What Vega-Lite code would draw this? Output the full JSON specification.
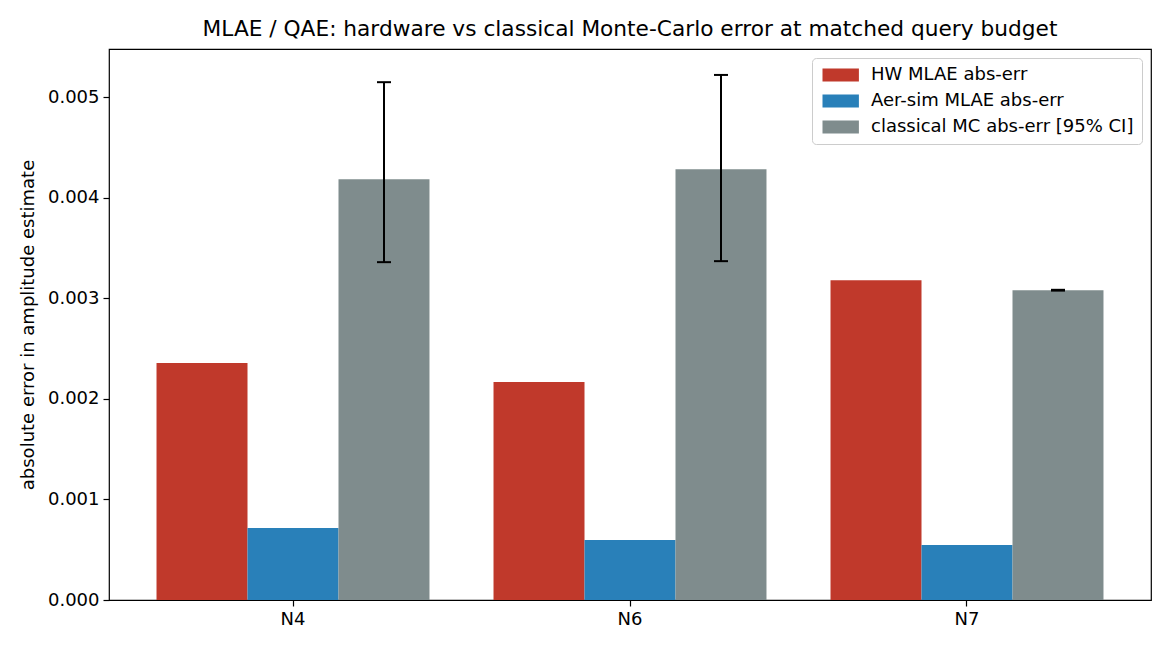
{
  "$schema": "https://vega.github.io/schema/vega-lite/v6.json",
  "width": 1042,
  "height": 551,
  "autosize": "none",
  "padding": {"left": 109, "top": 49, "right": 19, "bottom": 50},
  "background": "white",
  "title": {
    "text": "MLAE / QAE: hardware vs classical Monte-Carlo error at matched query budget",
    "font": "DejaVu Sans",
    "fontSize": 21.7,
    "fontWeight": "normal",
    "color": "black",
    "offset": 8
  },
  "config": {
    "view": {"stroke": "black", "strokeWidth": 1.2},
    "font": "DejaVu Sans",
    "axis": {
      "labelFont": "DejaVu Sans",
      "labelFontSize": 18,
      "labelColor": "black",
      "titleFont": "DejaVu Sans",
      "titleFontSize": 18,
      "titleFontWeight": "normal",
      "titleColor": "black",
      "tickColor": "black",
      "tickSize": 6,
      "tickWidth": 1.2,
      "domain": false,
      "grid": false
    },
    "legend": {
      "labelFont": "DejaVu Sans",
      "labelFontSize": 18,
      "labelColor": "black",
      "labelLimit": 400
    }
  },
  "data": {
    "values": [
      {"group": "N4", "series": "HW MLAE abs-err", "value": 0.002356},
      {"group": "N4", "series": "Aer-sim MLAE abs-err", "value": 0.000716},
      {"group": "N4", "series": "classical MC abs-err [95% CI]", "value": 0.004185, "lo": 0.00336, "hi": 0.00515},
      {"group": "N6", "series": "HW MLAE abs-err", "value": 0.002167},
      {"group": "N6", "series": "Aer-sim MLAE abs-err", "value": 0.000596},
      {"group": "N6", "series": "classical MC abs-err [95% CI]", "value": 0.004284, "lo": 0.00337, "hi": 0.005222},
      {"group": "N7", "series": "HW MLAE abs-err", "value": 0.00318},
      {"group": "N7", "series": "Aer-sim MLAE abs-err", "value": 0.000547},
      {"group": "N7", "series": "classical MC abs-err [95% CI]", "value": 0.00308, "lo": 0.003077, "hi": 0.003085}
    ]
  },
  "encoding": {
    "x": {
      "field": "group",
      "type": "nominal",
      "title": null,
      "scale": {"paddingInner": 0.19, "paddingOuter": 0.141},
      "axis": {"labelAngle": 0, "labelPadding": 4}
    },
    "xOffset": {
      "field": "series",
      "type": "nominal",
      "scale": {
        "domain": ["HW MLAE abs-err", "Aer-sim MLAE abs-err", "classical MC abs-err [95% CI]"],
        "paddingInner": 0,
        "paddingOuter": 0
      }
    }
  },
  "layer": [
    {
      "mark": {"type": "bar"},
      "encoding": {
        "y": {
          "field": "value",
          "type": "quantitative",
          "title": "absolute error in amplitude estimate",
          "scale": {"domain": [0, 0.00548], "nice": false},
          "axis": {"values": [0, 0.001, 0.002, 0.003, 0.004, 0.005], "format": ".3f", "labelPadding": 4, "titlePadding": 10}
        },
        "color": {
          "field": "series",
          "type": "nominal",
          "title": null,
          "scale": {
            "domain": ["HW MLAE abs-err", "Aer-sim MLAE abs-err", "classical MC abs-err [95% CI]"],
            "range": ["#c0392b", "#2980b9", "#7f8c8d"]
          },
          "legend": {
            "orient": "top-right",
            "offset": 9,
            "symbolType": "M-1,-1L4.6,-1L4.6,1L-1,1Z",
            "symbolSize": 169,
            "symbolStrokeWidth": 0,
            "symbolOpacity": 1,
            "rowPadding": 8,
            "labelOffset": 33,
            "padding": 8,
            "strokeColor": "#cccccc",
            "fillColor": "white",
            "cornerRadius": 4
          }
        }
      }
    },
    {
      "transform": [{"filter": "isValid(datum.lo)"}],
      "mark": {"type": "rule", "color": "black", "strokeWidth": 2},
      "encoding": {
        "y": {"field": "lo", "type": "quantitative"},
        "y2": {"field": "hi"}
      }
    },
    {
      "transform": [{"filter": "isValid(datum.lo)"}],
      "mark": {"type": "tick", "color": "black", "size": 14, "thickness": 2, "opacity": 1},
      "encoding": {
        "y": {"field": "lo", "type": "quantitative"}
      }
    },
    {
      "transform": [{"filter": "isValid(datum.hi)"}],
      "mark": {"type": "tick", "color": "black", "size": 14, "thickness": 2, "opacity": 1},
      "encoding": {
        "y": {"field": "hi", "type": "quantitative"}
      }
    }
  ]
}
